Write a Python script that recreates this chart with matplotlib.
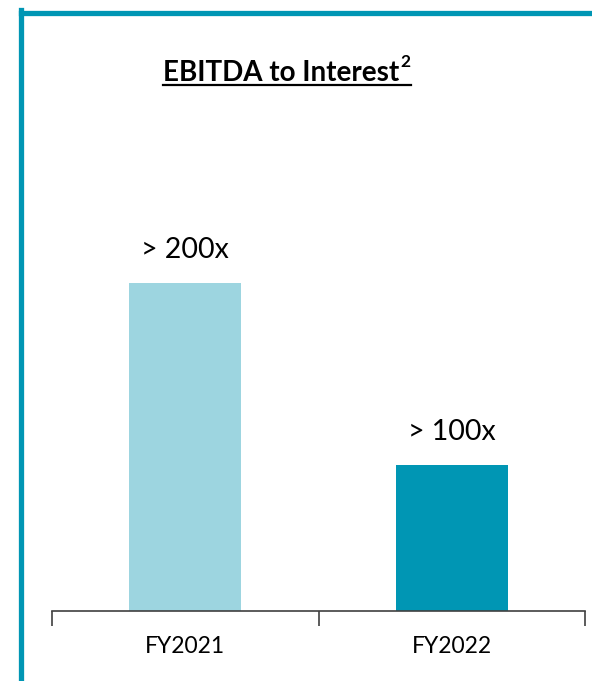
import matplotlib.pyplot as plt
from matplotlib.lines import Line2D

# data
categories = ["FY2021", "FY2022"]
values = [224, 100]
value_labels = ["> 200x", "> 100x"]
bar_colors = ["#9DD5E0", "#0096B4"]
title = "EBITDA to Interest"
title_note = "2"

W, H = 592, 681
fig = plt.figure(figsize=(W / 100, H / 100), dpi=100)
plt.rcParams['font.family'] = ['Lato', 'DejaVu Sans']

# axes placed in pixel terms: x 52..585, bottom at y=611
ymax = 330
px_per_unit = (611 - 283) / values[0]
ax_h = ymax * px_per_unit
ax = fig.add_axes([52 / W, (H - 611) / H, (585 - 52) / W, ax_h / H])

x = range(len(categories))
ax.bar(x, values, width=0.42, color=bar_colors)
for xi, v, lab in zip(x, values, value_labels):
    ax.text(xi, v + 13.5, lab, ha='center', va='bottom', fontsize=20.5)

ax.set_xlim(-0.5, 1.5)
ax.set_ylim(0, ymax)
ax.set_xticks(list(x))
ax.set_xticklabels(categories, fontsize=16.5)
ax.tick_params(axis='x', which='major', length=0, pad=18)
ax.set_xticks([-0.5, 0.5, 1.5], minor=True)
ax.tick_params(axis='x', which='minor', length=11, width=1.2, color='#404040')
ax.set_yticks([])
for s in ['top', 'right', 'left']:
    ax.spines[s].set_visible(False)
ax.spines['bottom'].set_color('#404040')
ax.spines['bottom'].set_linewidth(1.2)

# title, underlined, with superscript note
t = fig.text(163 / W, 1 - 81 / H, title, ha='left', va='baseline',
             fontsize=20, fontweight='bold')
fig.canvas.draw()
bb = t.get_window_extent()
fig.text((bb.x1 + 1) / W, 1 - 67 / H, title_note, ha='left', va='baseline',
         fontsize=12.5, fontweight='bold')
fig.add_artist(Line2D([163 / W, (bb.x1 + 12) / W], [1 - 85 / H, 1 - 85 / H],
                      color='black', lw=1.6))

# border (left and top)
border = "#0096B4"
fig.add_artist(Line2D([20.5 / W, 20.5 / W], [0, 1 - 10 / H], color=border, lw=3.8,
                      solid_capstyle='projecting'))
fig.add_artist(Line2D([20.5 / W, 1], [1 - 12.5 / H, 1 - 12.5 / H], color=border, lw=3.8,
                      solid_capstyle='projecting'))

fig.savefig("out.png", dpi=100)
